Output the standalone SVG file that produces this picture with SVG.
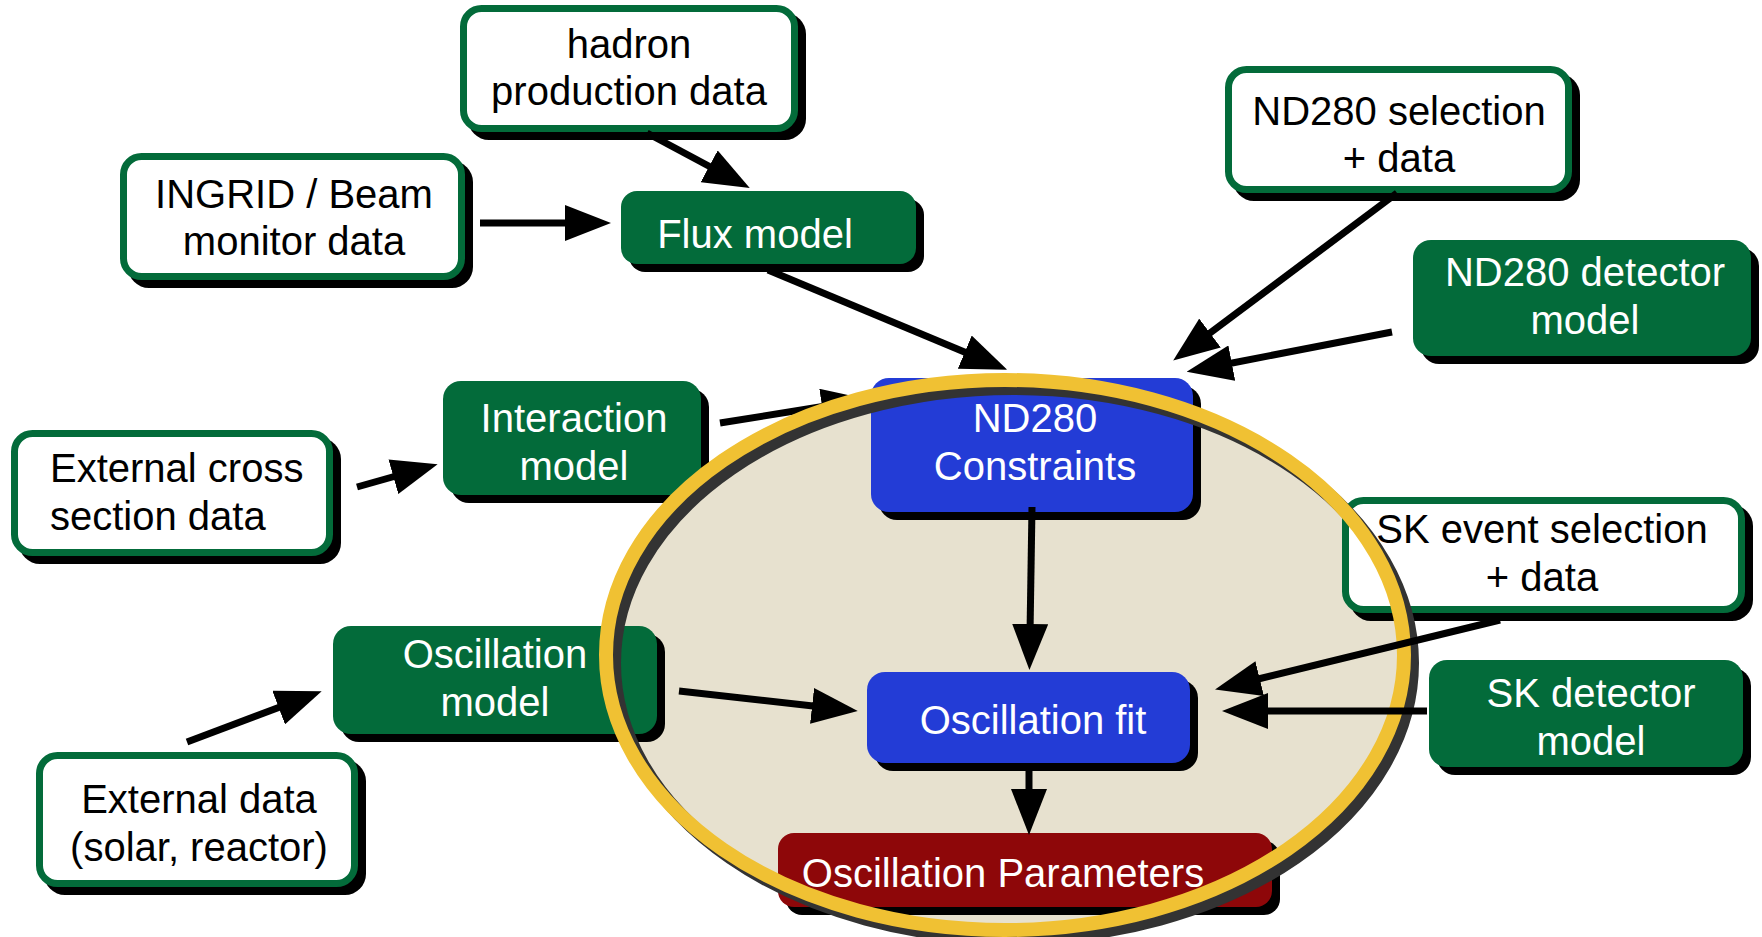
<svg xmlns="http://www.w3.org/2000/svg" width="1762" height="937" viewBox="0 0 1762 937">
<style>
.shadow{fill:#000}
.wbox{fill:#fff;stroke:#036b3a;stroke-width:7}
.gbox{fill:#036b3a}
.bbox{fill:#233cd6}
.rbox{fill:#8e0709}
text{font-family:"Liberation Sans",Arial,sans-serif;font-size:40px;text-anchor:middle}
.dk{fill:#000}
.lt{fill:#fff}
.conn{stroke:#000;stroke-width:7;fill:none;marker-end:url(#ah)}
</style>
<defs>
<marker id="ah" markerUnits="userSpaceOnUse" markerWidth="46" markerHeight="36" viewBox="0 0 46 36" refX="10" refY="18" orient="auto">
<path d="M0,0 L46,18 L0,36 Z" fill="#000"/>
</marker>
</defs>
<rect width="1762" height="937" fill="#fff"/>
<g id="connectors-back">
<path class="conn" d="M720,423 L832,405"/>
</g>
<g id="oval-fill">
<ellipse cx="1005" cy="655" rx="399" ry="275" fill="#e7e1cf"/>
</g>
<g id="hadron">
<rect class="shadow" x="468" y="13" width="338" height="127" rx="21"/>
<rect class="wbox" x="463.5" y="8.5" width="331" height="120" rx="18"/>
<text class="dk" x="629" y="58">hadron</text>
<text class="dk" x="629" y="105">production data</text>
</g>
<g id="ingrid">
<rect class="shadow" x="128" y="161" width="345" height="127" rx="21"/>
<rect class="wbox" x="123.5" y="156.5" width="338" height="120" rx="18"/>
<text class="dk" x="294" y="208">INGRID / Beam</text>
<text class="dk" x="294" y="255">monitor data</text>
</g>
<g id="flux">
<rect class="shadow" x="629" y="199" width="295" height="73" rx="16"/>
<rect class="gbox" x="621" y="191" width="295" height="73" rx="16"/>
<text class="lt" x="755" y="248">Flux model</text>
</g>
<g id="nd280sel">
<rect class="shadow" x="1233" y="74" width="347" height="127" rx="21"/>
<rect class="wbox" x="1228.5" y="69.5" width="340" height="120" rx="18"/>
<text class="dk" x="1399" y="125">ND280 selection</text>
<text class="dk" x="1399" y="172">+ data</text>
</g>
<g id="nd280det">
<rect class="shadow" x="1421" y="248" width="338" height="116" rx="18"/>
<rect class="gbox" x="1413" y="240" width="338" height="116" rx="18"/>
<text class="lt" x="1585" y="286">ND280 detector</text>
<text class="lt" x="1585" y="334">model</text>
</g>
<g id="interaction">
<rect class="shadow" x="451" y="389" width="258" height="114" rx="18"/>
<rect class="gbox" x="443" y="381" width="258" height="114" rx="18"/>
<text class="lt" x="574" y="432">Interaction</text>
<text class="lt" x="574" y="480">model</text>
</g>
<g id="extcross">
<rect class="shadow" x="19" y="438" width="322" height="126" rx="21"/>
<rect class="wbox" x="14.5" y="433.5" width="315" height="119" rx="18"/>
<text class="dk" x="50" y="482" style="text-anchor:start">External cross</text>
<text class="dk" x="50" y="530" style="text-anchor:start">section data</text>
</g>
<g id="constraints">
<rect class="shadow" x="879" y="386" width="322" height="134" rx="18"/>
<rect class="bbox" x="871" y="378" width="322" height="134" rx="18"/>
<text class="lt" x="1035" y="432">ND280</text>
<text class="lt" x="1035" y="480">Constraints</text>
</g>
<g id="sksel">
<rect class="shadow" x="1350" y="505" width="403" height="116" rx="21"/>
<rect class="wbox" x="1345.5" y="500.5" width="396" height="109" rx="18"/>
<text class="dk" x="1542" y="543">SK event selection</text>
<text class="dk" x="1542" y="591">+ data</text>
</g>
<g id="skdet">
<rect class="shadow" x="1437" y="668" width="314" height="107" rx="18"/>
<rect class="gbox" x="1429" y="660" width="314" height="107" rx="18"/>
<text class="lt" x="1591" y="707">SK detector</text>
<text class="lt" x="1591" y="755">model</text>
</g>
<g id="oscmodel">
<rect class="shadow" x="341" y="634" width="324" height="108" rx="18"/>
<rect class="gbox" x="333" y="626" width="324" height="108" rx="18"/>
<text class="lt" x="495" y="668">Oscillation</text>
<text class="lt" x="495" y="716">model</text>
</g>
<g id="extdata">
<rect class="shadow" x="44" y="760" width="322" height="135" rx="21"/>
<rect class="wbox" x="39.5" y="755.5" width="315" height="128" rx="18"/>
<text class="dk" x="199" y="813">External data</text>
<text class="dk" x="199" y="861">(solar, reactor)</text>
</g>
<g id="oscfit">
<rect class="shadow" x="875" y="680" width="323" height="91" rx="18"/>
<rect class="bbox" x="867" y="672" width="323" height="91" rx="18"/>
<text class="lt" x="1033" y="734">Oscillation fit</text>
</g>
<g id="oscparams">
<rect class="shadow" x="786" y="841" width="494" height="74" rx="16"/>
<rect class="rbox" x="778" y="833" width="494" height="74" rx="16"/>
<text class="lt" x="1003" y="887">Oscillation Parameters</text>
</g>
<g id="oval-ring">
<ellipse cx="1013" cy="663" rx="399" ry="275" fill="none" stroke="#333" stroke-width="14"/>
<ellipse cx="1005" cy="655" rx="399" ry="275" fill="none" stroke="#f0c133" stroke-width="14"/>
</g>
<g id="connectors">
<path class="conn" d="M480,223 L575,223"/>
<path class="conn" d="M647,133 L718,171"/>
<path class="conn" d="M768,270 L974,356"/>
<path class="conn" d="M1397,193 L1202,339"/>
<path class="conn" d="M1392,332 L1222,365"/>
<path class="conn" d="M357,487 L403,474"/>
<path class="conn" d="M1032,507 L1030,634"/>
<path class="conn" d="M1500,620 L1250,681"/>
<path class="conn" d="M1427,711 L1258,711"/>
<path class="conn" d="M679,691 L822,707"/>
<path class="conn" d="M187,742 L288,704"/>
<path class="conn" d="M1029,770 L1029,799"/>
</g>
</svg>
